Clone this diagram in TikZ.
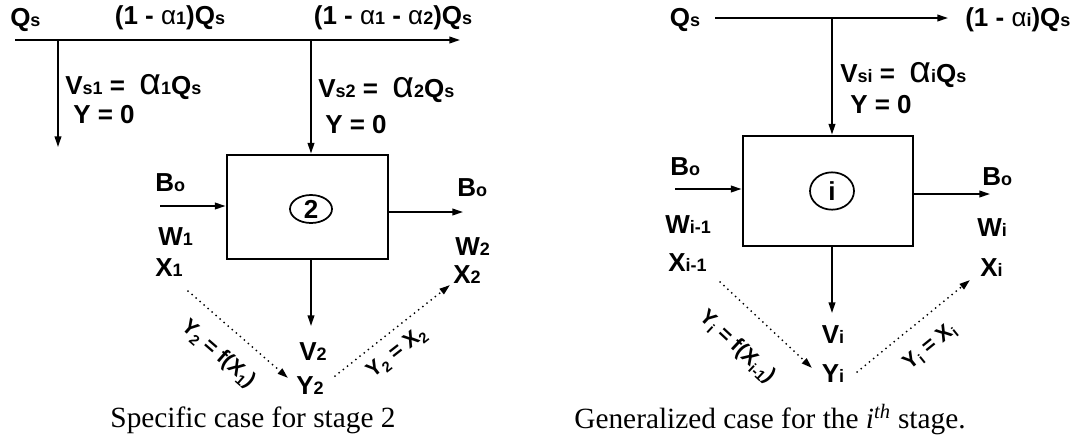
\documentclass[tikz,border=0pt]{standalone}
\usepackage{fontspec}
\setmainfont{Liberation Serif}
\setsansfont{Liberation Sans}
\usetikzlibrary{arrows.meta, positioning, shapes.geometric}
\newcommand{\lo}[1]{{\fontsize{13.5}{13.5}\selectfont #1}}
\newcommand{\dn}[1]{\raisebox{-0.4ex}{{\fontsize{11}{11}\selectfont #1}}}
\newcommand{\al}{{\mdseries α}}
\newcommand{\bigal}{{\mdseries\fontsize{28}{28}\selectfont α}}

\begin{document}
\begin{tikzpicture}[x=0.75pt, y=-0.75pt,
    lbl/.style={font=\sffamily\bfseries\fontsize{19.5}{22}\selectfont, inner sep=0pt},
    lblw/.style={lbl, anchor=west},
    rot/.style={lbl, font=\sffamily\bfseries\fontsize{16}{18}\selectfont, rotate=#1},
    stagebox/.style={draw, line width=2.2pt, inner sep=0pt},
    tag/.style={ellipse, draw, line width=1.3pt, inner sep=0pt, font=\sffamily\bfseries\fontsize{19.5}{22}\selectfont},
    arr/.style={-{Triangle[length=8pt, width=5pt]}, line width=1.3pt},
    dotarr/.style={arr, line width=1.5pt, line cap=round, dash pattern=on 0pt off 4pt},
    caption/.style={font=\fontsize{22}{26}\selectfont, inner sep=0pt},
]
  \useasboundingbox (0,0) rectangle (1078,440);

  % stage 2
  \coordinate (qa) at (15,40);
  \coordinate (qb) at (460,40);
  \coordinate (j1) at (58,40);
  \coordinate (e1) at (58,147);
  \coordinate (j2) at (311,40);
  \node[lblw] (qs2)  at (10,20)  {Q\lo{s}};
  \node[lbl]  (fl1)  at (170,18) {(1 - \al\lo{1})Q\lo{s}};
  \node[lbl]  (fl2)  at (393,18) {(1 - \al\lo{1} - \al\lo{2})Q\lo{s}};
  \node[lblw] (vs1)  at (65,87)  {V\lo{s1} = \ \bigal\lo{1}Q\lo{s}};
  \node[lblw] (y01)  at (73,115) {Y = 0};
  \node[lblw] (vs2)  at (318,90) {V\lo{s2} = \ \bigal\lo{2}Q\lo{s}};
  \node[lblw] (y02)  at (325,125) {Y = 0};

  \node[stagebox, minimum width=120.75pt, minimum height=78pt] (box2) at (307.5,207) {};
  \node[tag, minimum width=31.5pt, minimum height=21pt] (n2) at (311,209) {2};

  \coordinate (in2) at (160,206);
  \coordinate (out2) at (463,212);
  \coordinate (dn2) at (311,326);
  \node[lblw] (boi2) at (155,183) {B\lo{o}};
  \node[lblw] (w1)   at (158,237) {W\lo{1}};
  \node[lblw] (x1)   at (155,268) {X\lo{1}};
  \node[lblw] (boo2) at (457,188) {B\lo{o}};
  \node[lblw] (w2)   at (455,247) {W\lo{2}};
  \node[lblw] (x2)   at (453,275) {X\lo{2}};
  \node[lbl]  (v2)   at (313,352) {V\lo{2}};
  \node[lbl]  (y2)   at (310,386) {Y\lo{2}};

  \coordinate (d1a) at (188,291);
  \coordinate (d1b) at (288,378);
  \coordinate (d2a) at (335,376);
  \coordinate (d2b) at (450,285);
  \node[rot=-41] (f2) at (218,354) {Y\dn{2} = f(X\dn{1})};
  \node[rot=38]  (e2) at (397,353) {Y\dn{2} = X\dn{2}};

  \draw[arr] (qa) -- (qb);
  \draw[arr] (j1) -- (e1);
  \draw[arr] (j2) -- (j2 |- box2.north);
  \draw[arr] (in2) -- (in2 -| box2.west);
  \draw[arr] (out2 -| box2.east) -- (out2);
  \draw[arr] (j2 |- box2.south) -- (dn2);
  \draw[dotarr] (d1a) -- (d1b);
  \draw[dotarr] (d2a) -- (d2b);

  \node[caption] (cap2) at (253,420) {Specific case for stage 2};

  % stage i
  \coordinate (qc) at (715,18);
  \coordinate (qd) at (948,18);
  \coordinate (ji) at (832,18);
  \node[lbl]  (qsi)  at (685,20)  {Q\lo{s}};
  \node[lblw] (fli)  at (965,20)  {(1 - \al\lo{i})Q\lo{s}};
  \node[lblw] (vsi)  at (840,75)  {V\lo{si} = \ \bigal\lo{i}Q\lo{s}};
  \node[lblw] (y0i)  at (850,105) {Y = 0};

  \node[stagebox, minimum width=127.5pt, minimum height=82.5pt] (boxi) at (828,191) {};
  \node[tag, minimum width=33pt, minimum height=28pt] (ni) at (832,191) {i};

  \coordinate (ini) at (675,189);
  \coordinate (outi) at (990,194);
  \coordinate (dni) at (832,313);
  \node[lblw] (boii) at (670,167) {B\lo{o}};
  \node[lblw] (wim)  at (665,225) {W\lo{i-1}};
  \node[lblw] (xim)  at (668,263) {X\lo{i-1}};
  \node[lblw] (booi) at (982,177) {B\lo{o}};
  \node[lblw] (wi)   at (977,228) {W\lo{i}};
  \node[lblw] (xi)   at (980,268) {X\lo{i}};
  \node[lbl]  (vi)   at (833,335) {V\lo{i}};
  \node[lbl]  (yi)   at (833,374) {Y\lo{i}};

  \coordinate (d3a) at (720,282);
  \coordinate (d3b) at (812,368);
  \coordinate (d4a) at (857,372);
  \coordinate (d4b) at (970,280);
  \node[rot=-43] (fi) at (737,347) {Y\dn{i} = f(X\dn{i-1})};
  \node[rot=39]  (ei) at (930,347) {Y\dn{i} = X\dn{i}};

  \draw[arr] (qc) -- (qd);
  \draw[arr] (ji) -- (ji |- boxi.north);
  \draw[arr] (ini) -- (ini -| boxi.west);
  \draw[arr] (outi -| boxi.east) -- (outi);
  \draw[arr] (ji |- boxi.south) -- (dni);
  \draw[dotarr] (d3a) -- (d3b);
  \draw[dotarr] (d4a) -- (d4b);

  \node[caption] (capi) at (770,420) {Generalized case for the \textit{i}\textsuperscript{\textit{th}} stage.};
\end{tikzpicture}
\end{document}
